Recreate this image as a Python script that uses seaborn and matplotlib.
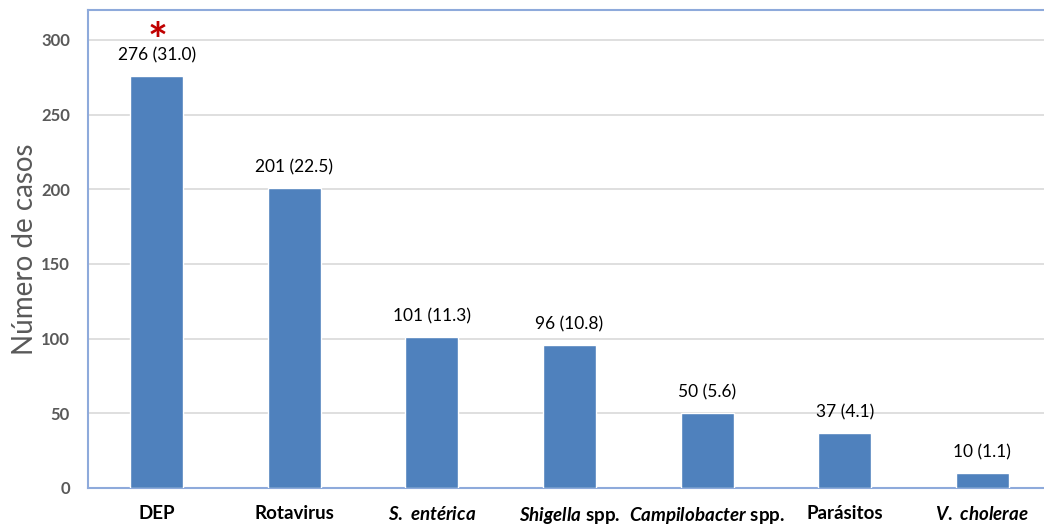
import matplotlib
matplotlib.use("Agg")
import matplotlib.pyplot as plt
import seaborn as sns
import pandas as pd

categories = ["DEP", "Rotavirus", r"$\mathit{S.\ entérica}$", r"$\mathit{Shigella}$ spp.",
              r"$\mathit{Campilobacter}$ spp.", "Parásitos", r"$\mathit{V.\ cholerae}$"]
casos = [276, 201, 101, 96, 50, 37, 10]
porcentaje = [31.0, 22.5, 11.3, 10.8, 5.6, 4.1, 1.1]
y_ticks = [0, 50, 100, 150, 200, 250, 300]

sns.set_theme(style="white")
plt.rcParams["font.family"] = ["Lato", "DejaVu Sans"]
plt.rcParams["mathtext.fontset"] = "custom"
plt.rcParams["mathtext.it"] = "Lato:italic:bold"
plt.rcParams["mathtext.rm"] = "Lato:bold"
plt.rcParams["mathtext.bf"] = "Lato:bold"

df = pd.DataFrame({"categoria": categories, "casos": casos})

fig = plt.figure(figsize=(10.44, 5.26), dpi=100)
ax = fig.add_axes([88 / 1044, 1 - 488 / 526, (1051 - 88) / 1044, (488 - 10) / 526])

sns.barplot(data=df, x="categoria", y="casos", color="#4F81BD", width=0.385,
            saturation=1, ax=ax, zorder=3)

ax.set_xlim(-0.5, 6.5)
ax.set_ylim(0, 320)
ax.set_yticks(y_ticks)
ax.yaxis.grid(True, color="#D9D9D9", linewidth=1.2, zorder=0)
ax.set_axisbelow(True)

for side in ["top", "bottom", "left"]:
    ax.spines[side].set_color("#8EAADB")
    ax.spines[side].set_linewidth(1.5)
ax.spines["right"].set_visible(False)

ax.tick_params(axis="y", length=0, pad=13, labelsize=12, labelcolor="#595959")
ax.tick_params(axis="x", length=0, pad=12.5, labelsize=13.5, labelcolor="black")
for lab in ax.get_yticklabels():
    lab.set_fontweight("bold")
for lab in ax.get_xticklabels():
    lab.set_fontweight("bold")

ax.set_xlabel("")
ax.set_ylabel("Número de casos", fontsize=20, color="#595959", labelpad=2)

for i, (n, p) in enumerate(zip(casos, porcentaje)):
    ax.annotate(f"{n} ({p:.1f})", xy=(i, n), xytext=(0, 9), textcoords="offset points",
                ha="center", va="bottom", fontsize=12.5, color="black")

# significance mark above the tallest bar
ax.annotate(r"$*$", xy=(0, casos[0]), xytext=(0, 24), textcoords="offset points",
            ha="center", va="center", fontsize=34, color="#C00000")

fig.savefig("out.png", dpi=100)
